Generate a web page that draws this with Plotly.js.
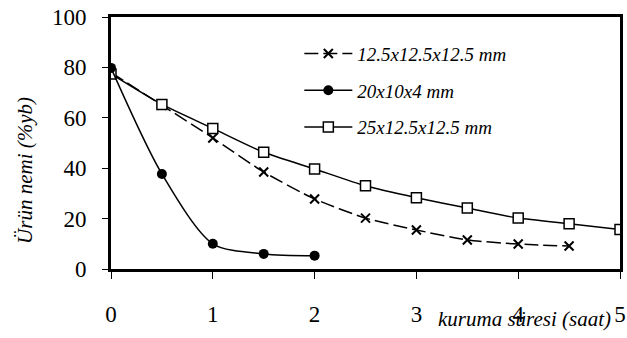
<!DOCTYPE html>
<html>
<head>
<meta charset="utf-8">
<script src="https://cdn.plot.ly/plotly-3.0.1.min.js"></script>
<style>html,body{margin:0;padding:0;background:#fff;}#chart{width:627px;height:338px;}</style>
</head>
<body>
<div id="chart"></div>
<script>
const timeA = [0, 0.5, 1, 1.5, 2, 2.5, 3, 3.5, 4, 4.5];
const moistA = [78, 65, 52, 38.5, 27.8, 20.2, 15.5, 11.5, 9.9, 9.1];
const timeB = [0, 0.5, 1, 1.5, 2];
const moistB = [79.8, 37.7, 10, 6, 5.3];
const timeC = [0, 0.5, 1, 1.5, 2, 2.5, 3, 3.5, 4, 4.5, 5];
const moistC = [77.4, 65.3, 55.8, 46.3, 39.7, 33, 28.3, 24.2, 20.2, 18, 15.7];
const names = ['12.5x12.5x12.5 mm', '20x10x4 mm', '25x12.5x12.5 mm'];
const xTicks = [0, 1, 2, 3, 4, 5];
const yTicks = [0, 20, 40, 60, 80, 100];

const serif = '"Liberation Serif", "Times New Roman", serif';
const traces = [
  {x: timeA, y: moistA, name: names[0], legendgroup: 'a', mode: 'lines+markers',
   line: {color: '#000', width: 1.5, shape: 'spline', smoothing: 0.6, dash: '14px,5px'},
   marker: {symbol: 'x-thin-open', size: 9, color: '#000', line: {width: 2, color: '#000'}}},
  {x: timeB, y: moistB, name: names[1], legendgroup: 'b', mode: 'lines+markers', yaxis: 'y2',
   line: {color: '#000', width: 1.5, shape: 'spline', smoothing: 0.8},
   marker: {symbol: 'circle', size: 10, color: '#000'}},
  {x: timeC, y: moistC, name: names[2], legendgroup: 'c', mode: 'lines+markers',
   line: {color: '#000', width: 1.5, shape: 'spline', smoothing: 0.6},
   marker: {symbol: 'square', size: 10, color: '#fff', line: {width: 1.5, color: '#000'}}}
];
const layout = {
  width: 627, height: 338,
  margin: {l: 111, r: 7, t: 17, b: 69},
  paper_bgcolor: '#fff', plot_bgcolor: '#fff',
  font: {family: serif, color: '#000', size: 18},
  showlegend: true,
  legend: {x: 0.37, y: 0.93, xanchor: 'left', yanchor: 'top', bgcolor: 'rgba(0,0,0,0)',
           itemwidth: 48,
           font: {family: serif, size: 19, style: 'italic'}, tracegroupgap: 9},
  xaxis: {range: [0, 5], tickvals: xTicks, ticktext: xTicks.map(String), showgrid: false, zeroline: false,
          showline: true, linewidth: 3, linecolor: '#000', mirror: true,
          ticks: 'outside', ticklen: 7, tickwidth: 1, tickcolor: '#000', ticklabelstandoff: 15,
          tickfont: {family: serif, size: 23}},
  yaxis: {range: [0, 100], tickvals: yTicks, ticktext: yTicks.map(String), showgrid: false, zeroline: false,
          showline: true, linewidth: 3, linecolor: '#000', mirror: true,
          ticks: 'outside', ticklen: 17, tickwidth: 1, tickcolor: 'rgba(0,0,0,0)',
          tickfont: {family: serif, size: 23}},
  yaxis2: {range: [0, 100], overlaying: 'y', side: 'left', tickvals: yTicks, showticklabels: false,
           showgrid: false, zeroline: false, showline: false,
           ticks: 'outside', ticklen: 8, tickwidth: 1, tickcolor: '#000'},
  annotations: [
    {xref: 'paper', yref: 'paper', x: 0.986, y: -0.2, xanchor: 'right', yanchor: 'middle',
     text: 'kuruma süresi (saat)', showarrow: false, font: {family: serif, size: 21, style: 'italic'}},
    {xref: 'paper', yref: 'paper', x: -0.169, y: 0.393, xanchor: 'center', yanchor: 'middle', textangle: -90,
     text: 'Ürün nemi (%yb)', showarrow: false, font: {family: serif, size: 21, style: 'italic'}}
  ]
};
Plotly.newPlot('chart', traces, layout, {displayModeBar: false, staticPlot: true});
</script>
</body>
</html>
